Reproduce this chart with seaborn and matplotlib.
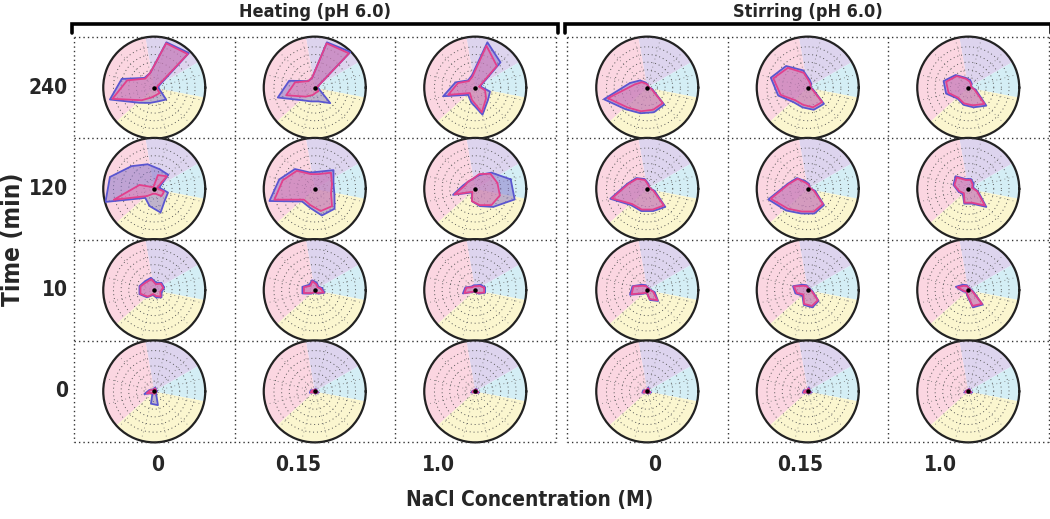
import numpy as np
import pandas as pd
import matplotlib
matplotlib.use("Agg")
import matplotlib.pyplot as plt
from matplotlib.lines import Line2D
from matplotlib import font_manager as fm
import seaborn as sns

# ---------------- data ----------------
axis_angles_deg = [15, 45, 75, 105, 135, 165, 195, 225, 255, 285, 315, 345]
time_labels = ["240", "120", "10", "0"]
nacl_labels = ["0", "0.15", "1.0", "0", "0.15", "1.0"]
group_titles = ["Heating (pH 6.0)", "Stirring (pH 6.0)"]
series_names = ["blue", "pink"]

# each row: 6 cells (Heating 0, 0.15, 1.0, Stirring 0, 0.15, 1.0), 12 radial values
blue_240 = [
    [0.08, 0.96, 0.92, 0.30, 0.27, 0.66, 0.90, 0.42, 0.31, 0.28, 0.33, 0.10],
    [0.05, 0.99, 0.92, 0.20, 0.18, 0.52, 0.75, 0.35, 0.28, 0.28, 0.43, 0.08],
    [0.10, 0.70, 0.92, 0.25, 0.20, 0.40, 0.65, 0.20, 0.30, 0.55, 0.35, 0.30],
    [0.03, 0.03, 0.05, 0.10, 0.20, 0.35, 0.88, 0.60, 0.52, 0.50, 0.47, 0.10],
    [0.05, 0.10, 0.15, 0.35, 0.60, 0.75, 0.60, 0.40, 0.40, 0.45, 0.45, 0.10],
    [0.05, 0.10, 0.15, 0.20, 0.35, 0.50, 0.45, 0.30, 0.35, 0.40, 0.50, 0.15],
]
pink_240 = [
    [0.05, 0.93, 0.90, 0.30, 0.25, 0.55, 0.85, 0.35, 0.20, 0.15, 0.15, 0.05],
    [0.05, 0.95, 0.90, 0.20, 0.18, 0.40, 0.58, 0.25, 0.15, 0.10, 0.10, 0.05],
    [0.08, 0.60, 0.85, 0.22, 0.18, 0.35, 0.55, 0.15, 0.25, 0.50, 0.30, 0.20],
    [0.03, 0.03, 0.05, 0.08, 0.15, 0.25, 0.80, 0.55, 0.48, 0.45, 0.43, 0.08],
    [0.05, 0.08, 0.12, 0.30, 0.55, 0.70, 0.55, 0.35, 0.35, 0.40, 0.40, 0.08],
    [0.05, 0.08, 0.12, 0.18, 0.32, 0.45, 0.40, 0.28, 0.32, 0.36, 0.45, 0.12],
]
blue_120 = [
    [0.10, 0.39, 0.40, 0.50, 0.63, 0.90, 0.99, 0.25, 0.35, 0.48, 0.30, 0.28],
    [0.38, 0.52, 0.35, 0.33, 0.55, 0.72, 0.92, 0.35, 0.38, 0.54, 0.55, 0.40],
    [0.72, 0.45, 0.28, 0.20, 0.20, 0.25, 0.45, 0.10, 0.25, 0.35, 0.50, 0.80],
    [0.05, 0.05, 0.10, 0.20, 0.30, 0.40, 0.75, 0.45, 0.45, 0.45, 0.50, 0.15],
    [0.05, 0.05, 0.10, 0.15, 0.30, 0.40, 0.80, 0.60, 0.50, 0.50, 0.45, 0.15],
    [0.10, 0.15, 0.20, 0.20, 0.35, 0.30, 0.20, 0.15, 0.30, 0.30, 0.50, 0.20],
]
pink_120 = [
    [0.05, 0.35, 0.28, 0.05, 0.05, 0.30, 0.82, 0.20, 0.10, 0.10, 0.20, 0.20],
    [0.35, 0.45, 0.30, 0.30, 0.50, 0.65, 0.82, 0.30, 0.33, 0.45, 0.48, 0.33],
    [0.45, 0.42, 0.30, 0.20, 0.20, 0.22, 0.42, 0.08, 0.25, 0.33, 0.45, 0.50],
    [0.05, 0.05, 0.08, 0.18, 0.28, 0.38, 0.72, 0.42, 0.42, 0.42, 0.46, 0.12],
    [0.05, 0.05, 0.08, 0.12, 0.28, 0.38, 0.75, 0.55, 0.46, 0.46, 0.42, 0.12],
    [0.08, 0.12, 0.18, 0.18, 0.32, 0.28, 0.18, 0.12, 0.28, 0.28, 0.46, 0.18],
]
blue_10 = [
    [0.20, 0.20, 0.15, 0.25, 0.25, 0.30, 0.30, 0.20, 0.10, 0.15, 0.20, 0.15],
    [0.15, 0.10, 0.15, 0.20, 0.15, 0.25, 0.25, 0.10, 0.05, 0.05, 0.10, 0.20],
    [0.20, 0.15, 0.10, 0.10, 0.10, 0.20, 0.25, 0.05, 0.03, 0.05, 0.10, 0.20],
    [0.05, 0.05, 0.05, 0.10, 0.15, 0.30, 0.35, 0.10, 0.05, 0.20, 0.30, 0.15],
    [0.05, 0.05, 0.05, 0.10, 0.15, 0.30, 0.25, 0.15, 0.30, 0.35, 0.30, 0.10],
    [0.05, 0.05, 0.05, 0.10, 0.15, 0.25, 0.10, 0.05, 0.10, 0.35, 0.40, 0.10],
]
pink_10 = [
    [0.18, 0.18, 0.12, 0.22, 0.22, 0.28, 0.28, 0.18, 0.08, 0.12, 0.18, 0.12],
    [0.12, 0.08, 0.12, 0.18, 0.12, 0.22, 0.22, 0.08, 0.04, 0.04, 0.08, 0.18],
    [0.18, 0.12, 0.08, 0.08, 0.08, 0.18, 0.22, 0.04, 0.03, 0.04, 0.08, 0.18],
    [0.04, 0.04, 0.04, 0.08, 0.12, 0.28, 0.32, 0.08, 0.04, 0.18, 0.28, 0.12],
    [0.04, 0.04, 0.04, 0.08, 0.12, 0.28, 0.22, 0.12, 0.28, 0.32, 0.28, 0.08],
    [0.04, 0.04, 0.04, 0.08, 0.12, 0.22, 0.08, 0.04, 0.08, 0.32, 0.38, 0.08],
]
blue_0 = [
    [0.05, 0.05, 0.08, 0.05, 0.05, 0.10, 0.20, 0.05, 0.25, 0.28, 0.05, 0.05],
    [0.03, 0.05, 0.05, 0.03, 0.03, 0.08, 0.10, 0.03, 0.03, 0.05, 0.05, 0.08],
    [0.03, 0.05, 0.05, 0.03, 0.03, 0.05, 0.08, 0.03, 0.03, 0.03, 0.05, 0.08],
    [0.03, 0.05, 0.08, 0.03, 0.03, 0.08, 0.10, 0.03, 0.03, 0.05, 0.05, 0.08],
    [0.03, 0.05, 0.08, 0.03, 0.03, 0.08, 0.10, 0.03, 0.03, 0.05, 0.05, 0.08],
    [0.03, 0.05, 0.05, 0.03, 0.03, 0.05, 0.08, 0.03, 0.03, 0.03, 0.05, 0.08],
]
pink_0 = [
    [0.04, 0.04, 0.06, 0.04, 0.04, 0.08, 0.15, 0.04, 0.05, 0.05, 0.04, 0.04],
    [0.03, 0.04, 0.04, 0.03, 0.03, 0.06, 0.08, 0.03, 0.03, 0.04, 0.04, 0.06],
    [0.03, 0.04, 0.04, 0.03, 0.03, 0.04, 0.06, 0.03, 0.03, 0.03, 0.04, 0.06],
    [0.03, 0.04, 0.06, 0.03, 0.03, 0.06, 0.08, 0.03, 0.03, 0.04, 0.04, 0.06],
    [0.03, 0.04, 0.06, 0.03, 0.03, 0.06, 0.08, 0.03, 0.03, 0.04, 0.04, 0.06],
    [0.03, 0.04, 0.04, 0.03, 0.03, 0.04, 0.06, 0.03, 0.03, 0.03, 0.04, 0.06],
]
blue_rows = [blue_240, blue_120, blue_10, blue_0]
pink_rows = [pink_240, pink_120, pink_10, pink_0]

# background sectors (start deg, end deg, colour)
sector_bounds = [(30, 100, "#ddd4ee"), (100, 222, "#fbd6e1"),
                 (222, 349, "#fbf6cf"), (349, 390, "#d4eef5")]

# ---------------- style ----------------
sns.set_theme(style="white")
plt.rcParams["font.family"] = ["DejaVu Sans"]

# look for an installed bold condensed / narrow face
label_font = None
pref = ["LiberationSansNarrow-Bold", "DejaVuSansCondensed-Bold", "RobotoCondensed-Bold",
        "OpenSans_Condensed-Bold", "OpenSansCondensed-Bold", "Roboto_Condensed-Bold"]
ttf = [f.fname for f in fm.fontManager.ttflist]
for p in pref:
    hits = [f for f in ttf if p.lower() in f.lower().replace(" ", "")]
    if hits:
        label_font = hits[0]
        break
if label_font is None:
    hits = [f for f in ttf if ("condensed" in f.lower() or "narrow" in f.lower())
            and "bold" in f.lower() and "oblique" not in f.lower()
            and "italic" not in f.lower()]
    if hits:
        label_font = sorted(hits)[0]

if label_font is not None:
    def fp(size):
        return fm.FontProperties(fname=label_font, size=size)
    scale = 1.0
else:
    def fp(size):
        return fm.FontProperties(family="DejaVu Sans", weight="bold",
                                 stretch="condensed", size=size)
    scale = 0.85

W, H = 1050, 519
fig = plt.figure(figsize=(W / 100, H / 100), dpi=100)

def fx(x):
    return x / W

def fy(y):
    return 1 - y / H

group_x0 = [74, 567]
cell_w = 160.5
row_y0 = 37
cell_h = 101.25
circ_r = 51

series_colors = {"blue": "#5a56d0", "pink": "#e2408c"}
fill_colors = {"blue": "#8472c8", "pink": "#ee7fb0"}
fill_alpha = {"blue": 0.5, "pink": 0.45}

theta = np.deg2rad(axis_angles_deg)
dot_style = (0, (1, 2.2))

for g in range(2):
    x0 = group_x0[g]
    for i in range(5):
        y = row_y0 + i * cell_h
        fig.add_artist(Line2D([fx(x0), fx(x0 + 3 * cell_w)], [fy(y), fy(y)],
                              color="#333333", lw=1.0, linestyle=dot_style))
    for j in range(4):
        x = x0 + j * cell_w
        fig.add_artist(Line2D([fx(x), fx(x)], [fy(row_y0), fy(row_y0 + 4 * cell_h)],
                              color="#333333", lw=1.0, linestyle=dot_style))
    bx0, bx1 = x0 - 2, x0 + 3 * cell_w + 2
    fig.add_artist(Line2D([fx(bx0), fx(bx0), fx(bx1), fx(bx1)],
                          [fy(33), fy(24), fy(24), fy(33)],
                          color="black", lw=2.6, solid_joinstyle="miter"))
    fig.text(fx((bx0 + bx1) / 2), fy(12), group_titles[g], ha="center", va="center",
             fontproperties=fp(13 * scale))

for r_i in range(4):
    for c in range(6):
        g = c // 3
        cx = group_x0[g] + (c % 3 + 0.5) * cell_w
        cy = row_y0 + (r_i + 0.5) * cell_h
        ax = fig.add_axes([fx(cx - circ_r), fy(cy + circ_r),
                           2 * circ_r / W, 2 * circ_r / H], projection="polar")
        ax.set_facecolor("none")
        for (a0, a1, col) in sector_bounds:
            ax.bar(np.deg2rad((a0 + a1) / 2), 1.0, width=np.deg2rad(a1 - a0),
                   bottom=0, color=col, edgecolor="none", zorder=0)
        ring = np.linspace(0, 2 * np.pi, 200)
        for rr in [0.2, 0.35, 0.5, 0.65, 0.8]:
            ax.plot(ring, np.full_like(ring, rr), color="#555555", lw=0.7,
                    linestyle=(0, (1, 3)), zorder=1)
        for t in theta:
            ax.plot([t, t], [0, 0.95], color="#777777", lw=0.6,
                    linestyle=(0, (1, 4)), zorder=1)

        rows = []
        for s_name, src in zip(series_names, [blue_rows, pink_rows]):
            vals = src[r_i][c]
            for k in list(range(12)) + [0]:
                rows.append({"theta": theta[k], "r": vals[k], "series": s_name})
        df = pd.DataFrame(rows)
        for s_name in series_names:
            sub = df[df.series == s_name]
            ax.fill(sub.theta.values, sub.r.values, color=fill_colors[s_name],
                    alpha=fill_alpha[s_name], lw=0, zorder=2)
        sns.lineplot(data=df, x="theta", y="r", hue="series", palette=series_colors,
                     sort=False, estimator=None, units="series", legend=False,
                     lw=1.3, ax=ax, zorder=3)
        ax.plot([0], [0], "o", color="black", ms=2.2, zorder=4)
        ax.set_ylim(0, 1)
        ax.set_xticks([])
        ax.set_yticks([])
        ax.set_xlabel("")
        ax.set_ylabel("")
        ax.grid(False)
        ax.spines["polar"].set_color("#222222")
        ax.spines["polar"].set_linewidth(1.6)

for r_i, lab in enumerate(time_labels):
    cy = row_y0 + (r_i + 0.5) * cell_h
    fig.text(fx(68), fy(cy), lab, ha="right", va="center", fontproperties=fp(15 * scale))

fig.text(fx(13), fy(row_y0 + 2 * cell_h), "Time (min)", rotation=90, ha="center",
         va="center", fontproperties=fp(17.5 * scale))

label_x = [158, 298, 438, 655, 800, 940]
for x, lab in zip(label_x, nacl_labels):
    fig.text(fx(x), fy(465), lab, ha="center", va="center", fontproperties=fp(15 * scale))

fig.text(fx(530), fy(500), "NaCl Concentration (M)", ha="center", va="center",
         fontproperties=fp(15 * scale))

fig.savefig("out.png", dpi=100)
